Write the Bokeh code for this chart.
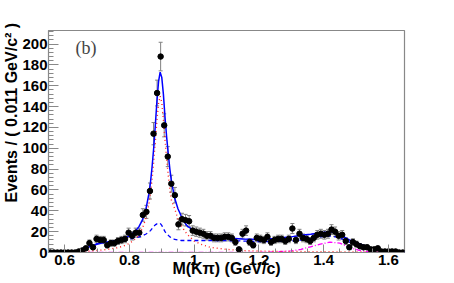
import numpy as np
from bokeh.plotting import figure
from bokeh.models import (ColumnDataSource, Whisker, TeeHead, Label, Range1d, Title,
                          SingleIntervalTicker, CustomJSTickFormatter)
from bokeh.embed import file_html
from bokeh.resources import INLINE

# ---- binning of the histogram ----
bin_lo = 0.55
bin_hi = 1.65
bin_width = 0.011

# ---- data counts per bin ----
counts = [0, 0, 0, 0, 0, 0, 0, 0, 1, 2,
          4, 9, 5, 13, 12, 12, 7, 9, 9, 11,
          12, 13, 19, 16, 19, 19, 36, 39, 59, 114,
          153, 188, 122, 92, 66, 55, 27, 32, 31, 30,
          21, 20, 19, 18, 16, 16, 14, 14, 14, 15,
          15, 14, 10, 3, 18, 21, 10, 7, 14, 13,
          12, 15, 10, 12, 13, 13, 11, 13, 23, 12,
          18, 14, 13, 11, 14, 17, 18, 17, 18, 22,
          20, 16, 17, 11, 5, 10, 8, 6, 5, 5,
          3, 3, 4, 1, 1, 1, 1, 1, 0, 0]

# ---- fit curves ----
fit_x = [0.55, 0.60, 0.63, 0.64, 0.66, 0.68, 0.70, 0.72, 0.74, 0.76,
         0.78, 0.80, 0.82, 0.83, 0.84, 0.85, 0.86, 0.865, 0.87, 0.875,
         0.88, 0.885, 0.89, 0.895, 0.90, 0.905, 0.91, 0.915, 0.92, 0.925,
         0.93, 0.94, 0.95, 0.96, 0.97, 0.98, 1.00, 1.02, 1.05, 1.10,
         1.15, 1.20, 1.25, 1.30, 1.33, 1.36, 1.39, 1.42, 1.45, 1.48,
         1.51, 1.54, 1.57, 1.60, 1.65]
fit_total = [0, 0, 0, 0.5, 3, 6, 8, 9.5, 10.5, 11.5,
             13, 16, 21, 25, 31, 40, 56, 67, 82, 100,
             122, 145, 164, 173, 168, 152, 130, 111, 95, 80,
             68, 52, 42, 35, 29, 25, 21, 18.5, 16, 14,
             13, 12.5, 13.5, 15, 16.5, 17.5, 19, 20, 17, 12,
             8.5, 5, 2.5, 1.2, 0.3]
fit_kst892 = [0, 0, 0, 0.3, 1, 1.5, 2, 2.5, 3.3, 4.4,
              6, 8.7, 13.4, 17.3, 23, 32, 46, 57, 70, 87,
              106, 127, 143, 150, 144, 128, 108, 90, 74, 61,
              50, 42, 32, 26, 21, 17, 11, 8, 5, 3,
              1.8, 1.4, 1.1, 1.0, 0.9, 0.8, 0.7, 0.7, 0.6, 0.5,
              0.5, 0.4, 0.4, 0.3, 0.3]
fit_other = [0, 0, 0, 1.5, 5, 7, 8.5, 9.5, 10.5, 11,
             12, 13, 14, 15, 16, 17.5, 19.5, 21, 23, 25,
             26.5, 27.5, 28, 28, 26, 23, 20, 18, 16.5, 15,
             14, 12.5, 12, 11.5, 11.5, 11.5, 11.5, 11.5, 11.5, 11.5,
             11, 10.5, 10.5, 11, 12, 13.5, 15, 16, 14, 10,
             7, 4, 2.5, 1, 0.3]
fit_kst1410 = [0, 0, 0, 0, 0, 0, 0, 0, 0, 0,
               0, 0, 0, 0, 0, 0, 0, 0, 0, 0,
               0, 0, 0, 0, 0, 0, 0, 0, 0, 0,
               0, 0, 0, 0, 0, 0, 0, 0, 0, 0,
               0, 0.2, 0.6, 1.5, 3, 5.5, 8, 10, 9, 5,
               2, 0.8, 0.3, 0.1, 0]

# ---- axis ticks ----
y_tick_step = 20
x_tick_step = 0.2

nb = len(counts)
cnt = np.array(counts, dtype=float)
mass = bin_lo + bin_width * (np.arange(nb) + 0.5)
err = np.sqrt(cnt)
nz = cnt > 0

src = ColumnDataSource(dict(x=mass, y=cnt))
esrc = ColumnDataSource(dict(x=mass[nz], lo=(cnt - err)[nz], hi=(cnt + err)[nz]))

p = figure(width=450, height=283,
           x_range=Range1d(bin_lo, bin_hi), y_range=Range1d(0, 213),
           output_backend="svg", toolbar_location=None,
           min_border_left=48, min_border_right=46,
           min_border_top=30, min_border_bottom=31)
p.background_fill_color = "white"
p.border_fill_color = "white"
p.outline_line_color = "#888888"
p.outline_line_width = 1.2
p.grid.visible = False

# fit curves
p.line(fit_x, fit_kst1410, line_color="#ff00ff", line_width=1.3, line_dash="5 2 1 2")
p.line(fit_x, fit_other, line_color="#0000ff", line_width=1.3, line_dash="4 3")
p.line(fit_x, fit_kst892, line_color="#ff2020", line_width=1.4, line_dash="1 3")
p.line(fit_x, fit_total, line_color="#0000ff", line_width=1.5)

# error bars and data points
gray = "#808080"
w = Whisker(source=esrc, base="x", lower="lo", upper="hi",
            line_color=gray, line_width=1,
            upper_head=TeeHead(size=4, line_color=gray, line_width=1),
            lower_head=TeeHead(size=4, line_color=gray, line_width=1))
p.add_layout(w)
p.scatter("x", "y", source=src, size=5.5, color="black")

# axes
for ax in (p.xaxis[0], p.yaxis[0]):
    ax.axis_line_color = "#888888"
    ax.major_tick_line_color = "#888888"
    ax.minor_tick_line_color = "#888888"
    ax.major_tick_out = 0
    ax.minor_tick_out = 0
    ax.major_label_text_font = "Liberation Sans"
    ax.major_label_text_font_style = "bold"
    ax.major_label_text_font_size = "15px"
    ax.major_label_text_color = "black"

p.xaxis.ticker = SingleIntervalTicker(interval=x_tick_step, num_minor_ticks=4)
p.yaxis.ticker = SingleIntervalTicker(interval=y_tick_step, num_minor_ticks=5)
p.xaxis.formatter = CustomJSTickFormatter(code="return String(Number(tick.toFixed(2)));")
p.xaxis.major_tick_in = 8
p.xaxis.minor_tick_in = 4
p.yaxis.major_tick_in = 10
p.yaxis.minor_tick_in = 5
p.xaxis.major_label_standoff = 2
p.yaxis.major_label_standoff = 1

# x axis title
p.xaxis.axis_label = "M(K\u03c0) (GeV/c)"
p.xaxis.axis_label_text_font = "Liberation Sans"
p.xaxis.axis_label_text_font_style = "bold"
p.xaxis.axis_label_text_font_size = "16px"
p.xaxis.axis_label_text_color = "black"
p.xaxis.axis_label_standoff = -8

# y axis title as a side title
p.add_layout(Title(text="Events / ( 0.011 GeV/c\u00b2 )", align="left", offset=50,
                   standoff=0, text_font="Liberation Sans", text_font_style="bold",
                   text_font_size="16px", text_color="black"), "left")

p.add_layout(Label(x=27, y=205, x_units="screen", y_units="screen",
                   text="(b)", text_font="Liberation Serif",
                   text_font_size="18px", text_align="left", text_baseline="middle"))

open("out.html", "w").write(file_html(p, INLINE))
